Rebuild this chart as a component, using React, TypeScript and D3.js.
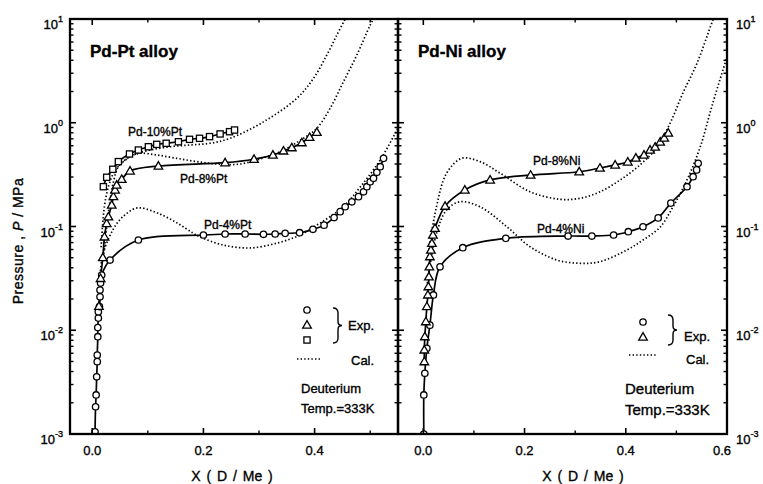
import React from 'react';
import * as d3 from 'd3';

// ---- Pd-Pt panel (X = D/Me, P in MPa) ----
const pt4X = [0.005, 0.006, 0.007, 0.008, 0.009, 0.009, 0.010, 0.010, 0.011, 0.011, 0.013, 0.014, 0.014, 0.015, 0.017, 0.032, 0.083, 0.200, 0.239, 0.275, 0.308, 0.329, 0.347, 0.373, 0.397, 0.417, 0.435, 0.446, 0.455, 0.467, 0.479, 0.488, 0.494, 0.500, 0.506, 0.512, 0.518, 0.524];
const pt4P = [0.00105, 0.00183, 0.00238, 0.00356, 0.00498, 0.00577, 0.00867, 0.0106, 0.0131, 0.0151, 0.0169, 0.0210, 0.0244, 0.0285, 0.0341, 0.0475, 0.0741, 0.0828, 0.0847, 0.0847, 0.0841, 0.0847, 0.0859, 0.0871, 0.0940, 0.103, 0.122, 0.139, 0.155, 0.173, 0.194, 0.216, 0.242, 0.270, 0.292, 0.333, 0.377, 0.454];

const pt8X = [0.012, 0.015, 0.019, 0.022, 0.026, 0.029, 0.035, 0.038, 0.041, 0.044, 0.053, 0.068, 0.119, 0.239, 0.291, 0.325, 0.344, 0.359, 0.377, 0.391, 0.404];
const pt8P = [0.0170, 0.0316, 0.0501, 0.0794, 0.107, 0.124, 0.161, 0.194, 0.225, 0.251, 0.285, 0.343, 0.383, 0.412, 0.445, 0.489, 0.535, 0.575, 0.643, 0.724, 0.809];

const pt10X = [0.020, 0.026, 0.037, 0.047, 0.067, 0.083, 0.101, 0.116, 0.133, 0.155, 0.175, 0.193, 0.211, 0.230, 0.247, 0.256];
const pt10P = [0.242, 0.298, 0.356, 0.422, 0.500, 0.546, 0.587, 0.619, 0.634, 0.656, 0.692, 0.708, 0.735, 0.780, 0.820, 0.851];

const calPt4X = [0.012, 0.019, 0.037, 0.055, 0.081, 0.117, 0.153, 0.181, 0.194, 0.235, 0.284, 0.333, 0.374, 0.410, 0.451, 0.482, 0.518, 0.550];
const calPt4P = [0.0251, 0.0531, 0.0925, 0.124, 0.151, 0.135, 0.108, 0.0865, 0.0792, 0.0664, 0.0621, 0.0693, 0.0828, 0.108, 0.154, 0.240, 0.438, 0.891];

const calPt8X = [0.020, 0.032, 0.039, 0.047, 0.068, 0.086, 0.116, 0.152, 0.188, 0.224, 0.266, 0.307, 0.338, 0.380, 0.404, 0.428, 0.452, 0.476, 0.500, 0.506];
const calPt8P = [0.0501, 0.180, 0.281, 0.377, 0.471, 0.508, 0.489, 0.454, 0.422, 0.400, 0.400, 0.457, 0.526, 0.708, 0.883, 1.38, 2.49, 4.50, 8.75, 10.0];

const calPt10X = [0.016, 0.022, 0.030, 0.040, 0.056, 0.074, 0.104, 0.140, 0.176, 0.212, 0.248, 0.308, 0.368, 0.398, 0.422, 0.440, 0.455];
const calPt10P = [0.0631, 0.158, 0.251, 0.339, 0.422, 0.489, 0.546, 0.587, 0.611, 0.634, 0.708, 1.02, 1.72, 2.68, 4.50, 7.01, 10.0];

// ---- Pd-Ni panel ----
const ni4X = [0.001, 0.001, 0.003, 0.007, 0.013, 0.020, 0.033, 0.078, 0.163, 0.286, 0.333, 0.376, 0.405, 0.434, 0.464, 0.489, 0.521, 0.533, 0.540, 0.543];
const ni4P = [0.001, 0.00238, 0.00385, 0.0067, 0.0112, 0.0219, 0.0409, 0.0625, 0.0769, 0.0809, 0.0809, 0.0828, 0.0891, 0.0995, 0.121, 0.168, 0.242, 0.302, 0.351, 0.406];

const ni8X = [0.002, 0.002, 0.003, 0.005, 0.007, 0.009, 0.010, 0.011, 0.012, 0.013, 0.015, 0.017, 0.019, 0.023, 0.043, 0.082, 0.132, 0.212, 0.308, 0.349, 0.379, 0.404, 0.420, 0.436, 0.448, 0.458, 0.468, 0.476, 0.484];
const ni8P = [0.00498, 0.00646, 0.00867, 0.0121, 0.0169, 0.0219, 0.0263, 0.0328, 0.0409, 0.0512, 0.0593, 0.0689, 0.0828, 0.0962, 0.157, 0.225, 0.281, 0.313, 0.337, 0.366, 0.392, 0.419, 0.457, 0.489, 0.546, 0.583, 0.652, 0.713, 0.796];

const calNi4X = [0.007, 0.026, 0.046, 0.072, 0.112, 0.165, 0.211, 0.264, 0.310, 0.349, 0.402, 0.434, 0.468, 0.493, 0.521, 0.547, 0.572, 0.600];
const calNi4P = [0.0263, 0.0859, 0.144, 0.173, 0.155, 0.0995, 0.0638, 0.0475, 0.0442, 0.0458, 0.0593, 0.0741, 0.0989, 0.154, 0.281, 0.583, 1.55, 4.31];

const calNi8X = [0.009, 0.026, 0.046, 0.076, 0.112, 0.152, 0.211, 0.270, 0.310, 0.349, 0.389, 0.428, 0.462, 0.488, 0.513, 0.541, 0.567, 0.573];
const calNi8P = [0.0512, 0.155, 0.326, 0.454, 0.422, 0.326, 0.216, 0.183, 0.187, 0.216, 0.281, 0.392, 0.583, 1.0, 1.94, 3.77, 8.37, 10.0];

const yDecades = [-3, -2, -1, 0, 1];
const xMajorL = [0, 0.2, 0.4];
const xMajorR = [0, 0.2, 0.4, 0.6];
const xMinor = [0.1, 0.3, 0.5];

const FONT = 'Liberation Sans, Arial, Helvetica, sans-serif';
const TOP = 19;
const BOTTOM = 434;

const y = d3.scaleLog().domain([1e-3, 10]).range([BOTTOM, TOP]);
const xL = d3.scaleLinear().domain([-0.04, 0.55]).range([70, 398]);
const xR = d3.scaleLinear().domain([-0.05, 0.6]).range([398, 727]);

const zip = (xs, ps) => xs.map((v, i) => [v, ps[i]]);

// scanned look: text a little heavier than plain regular
const TXT = { fontFamily: FONT, fill: '#000', stroke: '#000', strokeWidth: 0.35 };

function Marker({ shape, cx, cy }) {
  const st = { fill: '#fff', stroke: '#000', strokeWidth: 1.3 };
  if (shape === 'square') return <rect x={cx - 3.1} y={cy - 3.1} width={6.2} height={6.2} {...st} />;
  if (shape === 'triangle')
    return <path d={d3.symbol(d3.symbolTriangle, 32)()} transform={`translate(${cx},${cy + 0.6})`} {...st} />;
  return <circle cx={cx} cy={cy} r={3.2} {...st} />;
}

function Panel({ id, x, majors, exp, cal, side }) {
  const [x0, x1] = x.range();
  const line = d3
    .line()
    .x((d) => x(d[0]))
    .y((d) => y(d[1]))
    .curve(d3.curveCatmullRom.alpha(0.5));

  const minorY = [];
  for (let e = -3; e < 1; e++) for (let k = 2; k < 10; k++) minorY.push(k * Math.pow(10, e));

  return (
    <g>
      <defs>
        <clipPath id={id}>
          <rect x={x0} y={TOP} width={x1 - x0} height={BOTTOM - TOP} />
        </clipPath>
      </defs>
      <g clipPath={`url(#${id})`}>
        {cal.map((s, i) => (
          <path key={i} d={line(zip(s.x, s.p))} fill="none" stroke="#000" strokeWidth={1.7} strokeDasharray="1.4 2.2" />
        ))}
        {exp.map((s, i) => (
          <path key={i} d={line(zip(s.x, s.p))} fill="none" stroke="#000" strokeWidth={1.7} />
        ))}
        {exp.map((s, i) =>
          s.x.map((v, j) => <Marker key={i + '-' + j} shape={s.shape} cx={x(v)} cy={y(s.p[j])} />)
        )}
      </g>

      {/* y ticks, inward on both sides */}
      {yDecades.map((e) => (
        <g key={e}>
          <line x1={x0} x2={x0 + 6} y1={y(Math.pow(10, e))} y2={y(Math.pow(10, e))} stroke="#000" strokeWidth={1.6} />
          <line x1={x1} x2={x1 - 6} y1={y(Math.pow(10, e))} y2={y(Math.pow(10, e))} stroke="#000" strokeWidth={1.6} />
        </g>
      ))}
      {minorY.map((v) => (
        <g key={v}>
          <line x1={x0} x2={x0 + 3.5} y1={y(v)} y2={y(v)} stroke="#000" strokeWidth={1.4} />
          <line x1={x1} x2={x1 - 3.5} y1={y(v)} y2={y(v)} stroke="#000" strokeWidth={1.4} />
        </g>
      ))}

      {/* x ticks top and bottom */}
      {majors.map((v) => (
        <g key={v}>
          <line x1={x(v)} x2={x(v)} y1={BOTTOM} y2={BOTTOM - 6} stroke="#000" strokeWidth={1.6} />
          <line x1={x(v)} x2={x(v)} y1={TOP} y2={TOP + 6} stroke="#000" strokeWidth={1.6} />
        </g>
      ))}
      {xMinor.map((v) => (
        <g key={v}>
          <line x1={x(v)} x2={x(v)} y1={BOTTOM} y2={BOTTOM - 3.5} stroke="#000" strokeWidth={1.4} />
          <line x1={x(v)} x2={x(v)} y1={TOP} y2={TOP + 3.5} stroke="#000" strokeWidth={1.4} />
        </g>
      ))}

      <rect x={x0} y={TOP} width={x1 - x0} height={BOTTOM - TOP} fill="none" stroke="#000" strokeWidth={2.3} />

      {/* x tick labels */}
      {majors.map((v) => (
        <text key={v} x={v === 0.6 ? x(v) - 5 : x(v)} y={455} textAnchor="middle" fontSize={13} {...TXT}>
          {d3.format('.1f')(v)}
        </text>
      ))}

      {/* y tick labels */}
      {yDecades.map((e) => (
        <text
          key={e}
          x={side === 'left' ? 63 : 736}
          y={y(Math.pow(10, e)) + 10}
          textAnchor={side === 'left' ? 'end' : 'start'}
          fontSize={13}
          {...TXT}
        >
          10
          <tspan dy={-7} fontSize={9}>
            {e}
          </tspan>
        </text>
      ))}
    </g>
  );
}

function Bracket({ x, y0, y1 }) {
  const m = (y0 + y1) / 2;
  const d = `M${x},${y0} Q${x + 5},${y0} ${x + 5},${y0 + 5} L${x + 5},${m - 4} Q${x + 5},${m} ${x + 9},${m} Q${x + 5},${m} ${x + 5},${m + 4} L${x + 5},${y1 - 5} Q${x + 5},${y1} ${x},${y1}`;
  return <path d={d} fill="none" stroke="#000" strokeWidth={1.4} />;
}

export default function App() {
  return (
    <svg width={763} height={484} style={{ position: 'absolute', left: 0, top: 0, background: '#fff' }}>
      <rect width={763} height={484} fill="#fff" />
      <Panel
        id="clipL"
        x={xL}
        majors={xMajorL}
        side="left"
        exp={[
          { x: pt4X, p: pt4P, shape: 'circle' },
          { x: pt8X, p: pt8P, shape: 'triangle' },
          { x: pt10X, p: pt10P, shape: 'square' },
        ]}
        cal={[
          { x: calPt4X, p: calPt4P },
          { x: calPt8X, p: calPt8P },
          { x: calPt10X, p: calPt10P },
        ]}
      />
      <Panel
        id="clipR"
        x={xR}
        majors={xMajorR}
        side="right"
        exp={[
          { x: ni4X, p: ni4P, shape: 'circle' },
          { x: ni8X, p: ni8P, shape: 'triangle' },
        ]}
        cal={[
          { x: calNi4X, p: calNi4P },
          { x: calNi8X, p: calNi8P },
        ]}
      />

      {/* panel titles */}
      <text x={90} y={57} fontSize={17} fontWeight="bold" {...TXT}>Pd-Pt alloy</text>
      <text x={418} y={57} fontSize={17} fontWeight="bold" {...TXT}>Pd-Ni alloy</text>

      {/* series labels */}
      <text x={128} y={136} fontSize={12} {...TXT}>Pd-10%Pt</text>
      <text x={180} y={183} fontSize={12} {...TXT}>Pd-8%Pt</text>
      <text x={204} y={229} fontSize={12} {...TXT}>Pd-4%Pt</text>
      <text x={533} y={165} fontSize={12} {...TXT}>Pd-8%Ni</text>
      <text x={537} y={233} fontSize={12} {...TXT}>Pd-4%Ni</text>

      {/* legend, left */}
      <Marker shape="circle" cx={307} cy={310} />
      <Marker shape="triangle" cx={307} cy={325} />
      <Marker shape="square" cx={307} cy={340} />
      <Bracket x={333} y0={308} y1={343} />
      <text x={348} y={330} fontSize={13} {...TXT}>Exp.</text>
      <line x1={297} x2={322} y1={359} y2={359} stroke="#000" strokeWidth={1.7} strokeDasharray="1.4 2.2" />
      <text x={351} y={365} fontSize={13} {...TXT}>Cal.</text>
      <text x={301} y={393} fontSize={13} {...TXT}>Deuterium</text>
      <text x={301} y={413} fontSize={13} {...TXT}>Temp.=333K</text>

      {/* legend, right */}
      <Marker shape="circle" cx={643} cy={322} />
      <Marker shape="triangle" cx={643} cy={337} />
      <Bracket x={668} y0={315} y1={345} />
      <text x={684} y={341} fontSize={13} {...TXT}>Exp.</text>
      <line x1={629} x2={657} y1={355} y2={355} stroke="#000" strokeWidth={1.7} strokeDasharray="1.4 2.2" />
      <text x={686} y={364} fontSize={13} {...TXT}>Cal.</text>
      <text x={625} y={394} fontSize={15} {...TXT}>Deuterium</text>
      <text x={625} y={415} fontSize={15} {...TXT}>Temp.=333K</text>

      {/* axis titles */}
      <text transform="translate(23,241) rotate(-90)" textAnchor="middle" fontSize={14} letterSpacing={0.5} {...TXT}>
        Pressure , <tspan fontStyle="italic">P</tspan> / MPa
      </text>
      <text x={232} y={481} textAnchor="middle" fontSize={14} wordSpacing={2} {...TXT}>X ( D / Me )</text>
      <text x={583} y={481} textAnchor="middle" fontSize={14} wordSpacing={2} {...TXT}>X ( D / Me )</text>
    </svg>
  );
}
